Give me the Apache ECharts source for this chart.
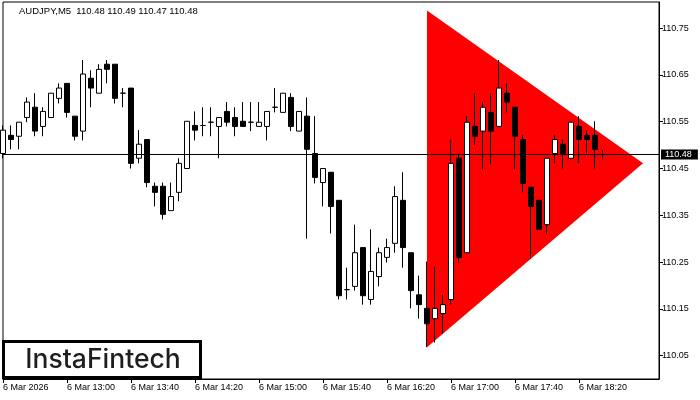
<!DOCTYPE html>
<html>
<head>
<meta charset="utf-8">
<script src="https://cdn.jsdelivr.net/npm/echarts@6/dist/echarts.min.js"></script>
<style>html,body{margin:0;padding:0;background:#fff;}#c{width:700px;height:400px;}</style>
</head>
<body>
<div id="c"></div>
<script>
// ---- data ----
const symbolTitle = 'AUDJPY,M5  110.48 110.49 110.47 110.48';
const xTickLabels = ['6 Mar 2026','6 Mar 13:00','6 Mar 13:40','6 Mar 14:20','6 Mar 15:00','6 Mar 15:40','6 Mar 16:20','6 Mar 17:00','6 Mar 17:40','6 Mar 18:20'];
const barsPerTick = 8;
const totalSlots = 83; // 12:20 ... 19:10 (right margin of chart)
const yTicks = [110.05,110.15,110.25,110.35,110.45,110.55,110.65,110.75];
const currentPrice = 110.48;
// OHLC: [open, close, low, high]
const opens  = [110.482,110.521,110.519,110.559,110.581,110.540,110.559,110.600,110.632,110.562,110.530,110.643,110.611,110.673,110.673,110.611,110.622,110.472,110.512,110.412,110.412,110.360,110.399,110.450,110.542,110.542,110.549,110.540,110.572,110.559,110.551,110.549,110.540,110.540,110.581,110.570,110.602,110.530,110.562,110.482,110.420,110.442,110.382,110.191,110.198,110.281,110.170,110.219,110.260,110.290,110.382,110.270,110.180,110.151,110.129,110.140,110.170,110.472,110.270,110.540,110.530,110.570,110.540,110.611,110.581,110.512,110.410,110.382,110.330,110.482,110.502,110.472,110.540,110.521,110.521,110.480];
const closes = [110.532,110.512,110.549,110.592,110.530,110.572,110.611,110.622,110.570,110.519,110.652,110.622,110.662,110.662,110.600,110.611,110.461,110.502,110.420,110.399,110.352,110.390,110.461,110.551,110.532,110.542,110.549,110.559,110.549,110.540,110.540,110.549,110.549,110.572,110.581,110.611,110.540,110.572,110.491,110.431,110.450,110.369,110.178,110.191,110.270,110.178,110.230,110.270,110.281,110.390,110.281,110.189,110.159,110.118,110.151,110.159,110.461,110.260,110.549,110.519,110.581,110.530,110.622,110.592,110.519,110.418,110.369,110.320,110.472,110.512,110.482,110.549,110.512,110.512,110.491,110.480];
const lows   = [110.472,110.491,110.491,110.549,110.519,110.519,110.559,110.589,110.559,110.510,110.510,110.581,110.611,110.632,110.589,110.581,110.450,110.461,110.410,110.369,110.341,110.360,110.380,110.450,110.510,110.519,110.519,110.472,110.540,110.519,110.540,110.530,110.540,110.510,110.570,110.570,110.530,110.530,110.300,110.418,110.369,110.311,110.170,110.170,110.189,110.159,110.159,110.198,110.249,110.270,110.238,110.151,110.129,110.068,110.078,110.097,110.159,110.249,110.270,110.500,110.448,110.459,110.540,110.570,110.448,110.399,110.258,110.320,110.311,110.461,110.450,110.472,110.461,110.482,110.450,110.470];
const highs  = [110.542,110.542,110.549,110.602,110.611,110.581,110.611,110.632,110.632,110.562,110.682,110.660,110.673,110.682,110.673,110.622,110.622,110.532,110.512,110.420,110.420,110.420,110.472,110.551,110.572,110.581,110.581,110.559,110.592,110.581,110.592,110.592,110.592,110.572,110.622,110.611,110.611,110.572,110.602,110.562,110.450,110.442,110.382,110.238,110.330,110.281,110.320,110.281,110.300,110.412,110.442,110.270,110.221,110.251,110.240,110.180,110.512,110.482,110.562,110.611,110.592,110.611,110.682,110.632,110.581,110.521,110.410,110.382,110.472,110.521,110.512,110.549,110.562,110.532,110.551,110.490];
// triangle pattern vertices (bar index, price)
const patternX = [53, 53, 80];
const patternY = [110.788, 110.068, 110.461];

// ---- build ----
const categories = [];
for (let i = 0; i < totalSlots; i++) {
  const m = 12 * 60 + 20 + i * 5;
  categories.push(String(Math.floor(m / 60)).padStart(2, '0') + ':' + String(m % 60).padStart(2, '0'));
}
const ohlc = opens.map((o, i) => [o, closes[i], lows[i], highs[i]]);
const isTick = (idx) => idx % barsPerTick === 0 && idx / barsPerTick < xTickLabels.length;
const triPts = patternX.map((x, i) => [x, patternY[i]]);

const chart = echarts.init(document.getElementById('c'), null, {renderer: 'canvas'});
const font = 'Liberation Sans';
chart.setOption({
  animation: false,
  backgroundColor: '#fff',
  grid: {left: 3, top: 2, width: 656, height: 377, show: true, borderColor: '#000', borderWidth: 1, backgroundColor: '#fff'},
  xAxis: {
    type: 'category', data: categories, boundaryGap: false,
    axisLine: {show: true, lineStyle: {color: '#000', width: 1}},
    axisTick: {show: true, interval: (idx) => isTick(idx), length: 4, lineStyle: {color: '#000'}},
    axisLabel: {interval: (idx) => isTick(idx), formatter: (v, idx) => xTickLabels[idx / barsPerTick] || '',
      align: 'left', margin: 4, color: '#000', fontFamily: font, fontSize: 9},
    splitLine: {show: false}
  },
  yAxis: {
    type: 'value', position: 'right', min: 110.0, max: 110.806, scale: true,
    axisLine: {show: true, lineStyle: {color: '#000', width: 1}},
    axisTick: {show: true, customValues: yTicks, length: 4, lineStyle: {color: '#000'}},
    axisLabel: {customValues: yTicks, formatter: (v) => v.toFixed(2), margin: 3, color: '#000', fontFamily: font, fontSize: 9},
    splitLine: {show: false}
  },
  series: [
    {
      type: 'custom', z: 1, silent: true, clip: true,
      data: [0],
      renderItem: (params, api) => ({
        type: 'polygon',
        shape: {points: triPts.map(p => api.coord(p))},
        style: {fill: '#ff0000', stroke: null}
      })
    },
    {
      type: 'candlestick', z: 3, data: ohlc, barWidth: 5,
      itemStyle: {color: '#fff', color0: '#000', borderColor: '#000', borderColor0: '#000', borderWidth: 1},
      markLine: {
        silent: true, symbol: ['none', 'none'],
        lineStyle: {color: '#000', width: 1, type: 'solid'},
        label: {show: true, position: 'end', formatter: currentPrice.toFixed(2), backgroundColor: '#000', color: '#fff',
          padding: [1, 6, 0, 4], distance: 2, fontFamily: font, fontSize: 9},
        data: [{yAxis: currentPrice}]
      }
    }
  ],
  graphic: [
    {type: 'text', left: 19, top: 6, style: {text: symbolTitle, fill: '#000', font: '9.5px "Liberation Sans"'}},
    {type: 'rect', shape: {x: 3.5, y: 341.5, width: 197, height: 36}, style: {fill: '#fff', stroke: '#000', lineWidth: 3}, z: 100},
    {type: 'text', x: 103, y: 360, z: 101, style: {text: 'InstaFintech', fill: '#1e1e1e', font: '500 26.5px Inter', textAlign: 'center', textVerticalAlign: 'middle'}}
  ]
});
</script>
</body>
</html>
